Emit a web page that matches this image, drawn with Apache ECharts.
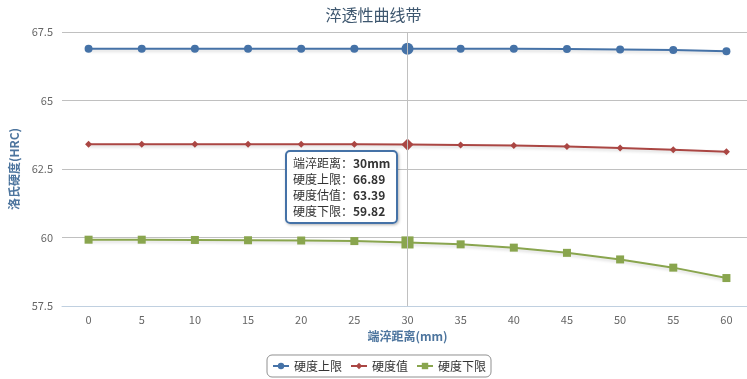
<!DOCTYPE html>
<html><head><meta charset="utf-8">
<script src="https://cdn.jsdelivr.net/npm/echarts@6/dist/echarts.min.js"></script>
<style>html,body{margin:0;padding:0;background:#fff}#c{width:747px;height:379px}</style>
</head><body><div id="c"></div>
<script>
const distances = ['0','5','10','15','20','25','30','35','40','45','50','55','60'];
const upperLimit = [66.89,66.89,66.89,66.89,66.89,66.89,66.89,66.89,66.89,66.88,66.86,66.84,66.80];
const estimate = [63.40,63.40,63.40,63.40,63.40,63.40,63.39,63.38,63.36,63.32,63.27,63.20,63.13];
const lowerLimit = [59.92,59.92,59.91,59.90,59.89,59.87,59.82,59.75,59.63,59.44,59.20,58.90,58.52];
const yTicks = [57.5, 60, 62.5, 65, 67.5];
const seriesNames = ['硬度上限','硬度值','硬度下限'];
const hoverIndex = 6;

const font = '"Noto Sans CJK SC","DejaVu Sans",sans-serif';
const colors = ['#4572A7','#AA4643','#89A54E'];
const chart = echarts.init(document.getElementById('c'));
function mk(name, data, symbol, size, bigSize, color) {
  return {
    name, type:'line', data, symbol,
    symbolSize: (v, p) => (p && p.dataIndex === hoverIndex) ? bigSize : size,
    lineStyle:{color, width:2, shadowColor:'rgba(0,0,0,0.15)', shadowBlur:3, shadowOffsetY:2},
    itemStyle:{color},
    emphasis:{disabled:true},
    animation:false
  };
}
chart.setOption({
  animation:false,
  color: colors,
  title:{text:'淬透性曲线带', left:'center', top:2,
    textStyle:{fontFamily:font, fontSize:16, fontWeight:'normal', color:'#3E576F'}},
  grid:{left:62, width:691, top:32, bottom:73, outerBoundsMode:'none', containLabel:false},
  legend:{
    bottom:2, left:267,
    data:seriesNames,
    borderColor:'#909090', borderWidth:1, borderRadius:5, padding:[5,5],
    itemWidth:16, itemHeight:8, itemGap:8,
    textStyle:{fontFamily:font, fontSize:12, color:'#333'}
  },
  tooltip:{
    trigger:'axis', triggerOn:'none', alwaysShowContent:true,
    position:[285,150],
    backgroundColor:'rgba(255,255,255,0.95)', borderColor:'#4572A7', borderWidth:2, borderRadius:5,
    padding:[3,6],
    textStyle:{fontFamily:font, fontSize:12, color:'#333'},
    extraCssText:'line-height:16px;box-shadow:1px 1px 3px rgba(0,0,0,0.3);',
    axisPointer:{type:'line', lineStyle:{color:'#c0c0c0', width:1, type:'solid'}},
    formatter: (ps) => {
      const i = ps[0].dataIndex;
      return '端淬距离：<b>' + distances[i] + 'mm</b><br/>' +
        '硬度上限：<b>' + upperLimit[i].toFixed(2) + '</b><br/>' +
        '硬度估值：<b>' + estimate[i].toFixed(2) + '</b><br/>' +
        '硬度下限：<b>' + lowerLimit[i].toFixed(2) + '</b>';
    }
  },
  xAxis:{
    type:'category', data:distances, boundaryGap:true,
    name:'端淬距离(mm)', nameLocation:'middle', nameGap:24,
    nameTextStyle:{fontFamily:font, fontSize:12, fontWeight:'bold', color:'#4d759e'},
    axisLine:{lineStyle:{color:'#C0D0E0'}},
    axisTick:{lineStyle:{color:'#C0D0E0'}, length:5},
    axisLabel:{fontFamily:font, fontSize:11, color:'#666', margin:8}
  },
  yAxis:{
    type:'value', min:yTicks[0], max:yTicks[yTicks.length-1], interval:2.5,
    name:'洛氏硬度(HRC)', nameLocation:'middle', nameGap:41, nameRotate:90,
    nameTextStyle:{fontFamily:font, fontSize:12, fontWeight:'bold', color:'#4d759e'},
    axisLine:{show:false}, axisTick:{show:false},
    splitLine:{lineStyle:{color:'#C0C0C0'}},
    axisLabel:{fontFamily:font, fontSize:11, color:'#666', margin:9}
  },
  series:[
    mk(seriesNames[0], upperLimit, 'circle', 8, 11, colors[0]),
    mk(seriesNames[1], estimate, 'diamond', 7, 11, colors[1]),
    mk(seriesNames[2], lowerLimit, 'rect', 8, 11, colors[2])
  ]
});
chart.dispatchAction({type:'showTip', seriesIndex:0, dataIndex:hoverIndex});
</script></body></html>
